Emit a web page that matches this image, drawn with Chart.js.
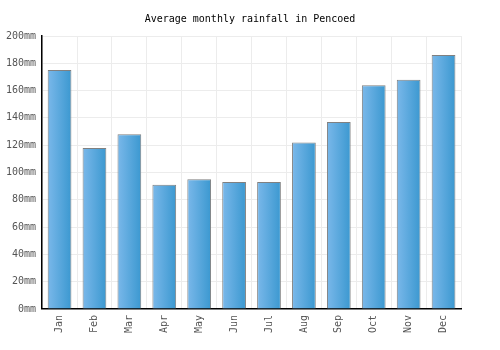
<!DOCTYPE html>
<html>
<head>
<meta charset="utf-8">
<script src="https://cdn.jsdelivr.net/npm/chart.js@4/dist/chart.umd.min.js"></script>
<style>
  html, body { margin: 0; padding: 0; background: #fff; }
  #wrap { width: 500px; height: 350px; }
</style>
</head>
<body>
<div id="wrap"><canvas id="rainChart" width="500" height="350"></canvas></div>
<script>
// data
const months = ['Jan', 'Feb', 'Mar', 'Apr', 'May', 'Jun', 'Jul', 'Aug', 'Sep', 'Oct', 'Nov', 'Dec'];
const rainfall = [175, 118, 128, 91, 95, 93, 93, 122, 137, 164, 168, 186];
const yTicks = [0, 20, 40, 60, 80, 100, 120, 140, 160, 180, 200];

const FONT = "'DejaVu Sans Mono', monospace";
const BAR_PCT = 0.68;

// horizontal gradient per bar, light left -> darker right
function barFill(context) {
    const chart = context.chart;
    const xScale = chart.scales.x;
    if (!xScale || !chart.chartArea) return '#5aa8de';
    const center = xScale.getPixelForValue(context.dataIndex);
    const half = (xScale.width / months.length) * BAR_PCT / 2;
    const g = chart.ctx.createLinearGradient(center - half, 0, center + half, 0);
    g.addColorStop(0, '#7ab8ea');
    g.addColorStop(1, '#3b98d0');
    return g;
}

new Chart(document.getElementById('rainChart'), {
    type: 'bar',
    data: {
        labels: months,
        datasets: [{
            label: 'Rainfall',
            data: rainfall,
            backgroundColor: barFill,
            borderColor: '#808080',
            borderWidth: 1,
            borderSkipped: 'bottom',
            barPercentage: BAR_PCT,
            categoryPercentage: 1
        }]
    },
    options: {
        responsive: false,
        animation: false,
        layout: { padding: { left: 0, right: 0, top: 6, bottom: 11 } },
        plugins: {
            legend: { display: false },
            tooltip: { enabled: false },
            title: {
                display: true,
                text: 'Average monthly rainfall in Pencoed',
                color: '#000',
                font: { family: FONT, size: 10, weight: 'normal' },
                padding: { top: 7, bottom: 11 }
            }
        },
        scales: {
            x: {
                grid: { color: '#ececec', drawTicks: false },
                border: { color: '#000', width: 1.5 },
                ticks: {
                    color: '#555',
                    font: { family: FONT, size: 10 },
                    minRotation: 90,
                    maxRotation: 90,
                    padding: 6
                }
            },
            y: {
                min: 0,
                max: 200,
                afterBuildTicks(axis) {
                    axis.ticks = yTicks.map(v => ({ value: v }));
                },
                grid: { color: '#ececec', drawTicks: false },
                border: { color: '#000', width: 1.5 },
                ticks: {
                    color: '#555',
                    font: { family: FONT, size: 10 },
                    padding: 6,
                    callback: v => v + 'mm'
                }
            },
            // empty axis on the right, only keeps the margin so the title stays centred
            spacer: {
                type: 'linear',
                position: 'right',
                grid: { display: false, drawTicks: false },
                border: { display: false },
                ticks: { display: false },
                afterFit(axis) { axis.width = 39; }
            }
        }
    }
});
</script>
</body>
</html>
